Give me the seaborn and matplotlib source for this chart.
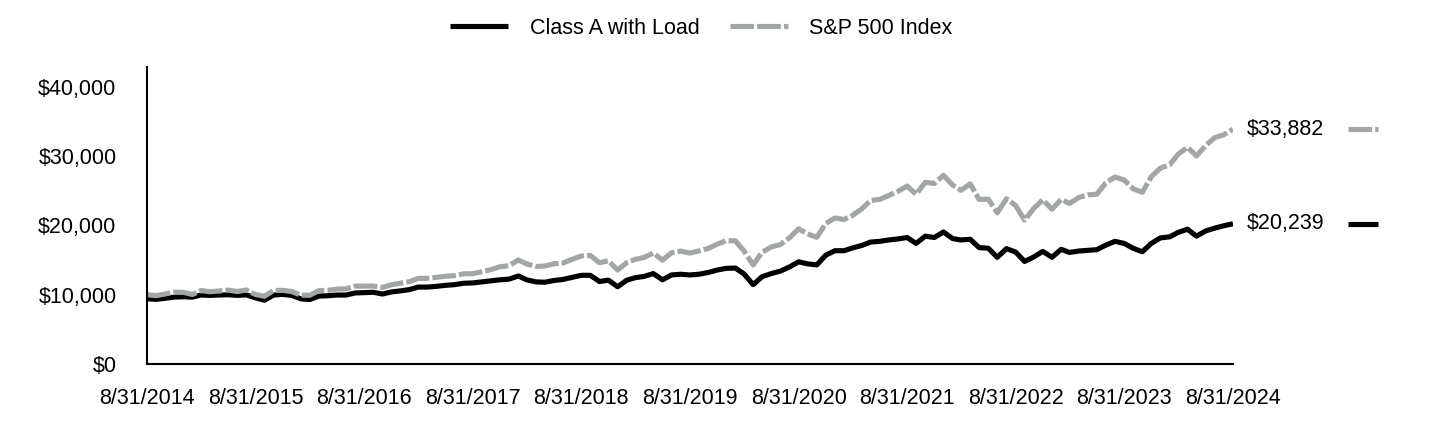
import matplotlib
matplotlib.use("Agg")
import matplotlib.pyplot as plt
import matplotlib.transforms as mtransforms
import seaborn as sns
import pandas as pd

# ---------------- data ----------------
series_names = ["Class A with Load", "S&P 500 Index"]

fund_values = [
    9425, 9330, 9480, 9650, 9700, 9650, 9950, 9900, 9950, 10000, 9900, 9980,
    9550, 9200, 9950, 10050, 9900, 9400, 9300, 9800, 9850, 9950, 9950, 10250,
    10300, 10350, 10100, 10400, 10550, 10750, 11100, 11100, 11200, 11350, 11450, 11650,
    11700, 11850, 12000, 12150, 12250, 12700, 12150, 11850, 11800, 12050, 12200, 12500,
    12800, 12800, 11900, 12100, 11150, 12100, 12450, 12650, 13050, 12150, 12850, 12950,
    12850, 12950, 13200, 13550, 13800, 13850, 13000, 11450, 12600, 13050, 13400, 14000,
    14750, 14450, 14300, 15700, 16350, 16350, 16750, 17100, 17600, 17700, 17900, 18050,
    18250, 17400, 18450, 18250, 19050, 18100, 17900, 18000, 16800, 16700, 15400, 16650,
    16150, 14800, 15450, 16250, 15400, 16550, 16100, 16300, 16400, 16500, 17150, 17700,
    17400, 16700, 16200, 17400, 18200, 18350, 19000, 19450, 18450, 19200, 19600, 19950,
    20239,
]

sp500_values = [
    10000, 9860, 10104, 10368, 10340, 10035, 10602, 10433, 10538, 10665, 10457, 10680,
    10027, 9777, 10604, 10626, 10456, 9940, 9914, 10585, 10630, 10809, 10836, 11239,
    11242, 11246, 11044, 11439, 11665, 11892, 12353, 12367, 12499, 12663, 12743, 13010,
    13037, 13309, 13625, 14029, 14189, 15009, 14446, 14080, 14139, 14467, 14560, 15107,
    15588, 15679, 14613, 14897, 13551, 14639, 15098, 15392, 16021, 14990, 16048, 16284,
    16014, 16314, 16673, 17267, 17788, 17786, 16315, 14295, 16133, 16890, 17227, 18204,
    19509, 18773, 18281, 20278, 21063, 20861, 21438, 22382, 23591, 23757, 24322, 24913,
    25675, 24491, 26225, 26046, 27224, 25832, 25060, 25996, 23746, 23784, 21821, 23846,
    22869, 20765, 22457, 23701, 22337, 23753, 23168, 24017, 24406, 24504, 26130, 26985,
    26548, 25293, 24775, 27026, 28264, 28758, 30291, 31279, 30023, 31513, 32655, 33076,
    33882,
]

dates = pd.date_range("2014-08-31", periods=len(fund_values), freq="ME")

tick_dates = pd.to_datetime([f"{y}-08-31" for y in range(2014, 2025)])
tick_labels = ["8/31/2014", "8/31/2015", "8/31/2016", "8/31/2017", "8/31/2018",
               "8/31/2019", "8/31/2020", "8/31/2021", "8/31/2022", "8/31/2023",
               "8/31/2024"]

y_ticks = [0, 10000, 20000, 30000, 40000]
y_tick_labels = ["$0", "$10,000", "$20,000", "$30,000", "$40,000"]

# ---------------- style ----------------
sns.set_theme(style="white")
plt.rcParams["font.family"] = ["Liberation Sans", "DejaVu Sans"]
plt.rcParams["text.color"] = "black"
plt.rcParams["axes.labelcolor"] = "black"
plt.rcParams["xtick.color"] = "black"
plt.rcParams["ytick.color"] = "black"

FONT = 15.5
BLACK = "#000000"
GRAY = "#A2A6A5"
LW = 3.7
DASH = (0, (4.6, 0.6))

fig = plt.figure(figsize=(14.4, 4.32), dpi=100)
ax = fig.add_axes([147 / 1440, 1 - 364 / 432, (1233 - 147) / 1440, (364 - 67) / 432])

df = pd.DataFrame({"date": dates, "fund": fund_values, "sp": sp500_values})

sns.lineplot(data=df, x="date", y="fund", color=BLACK, lw=LW, ax=ax,
             label=series_names[0], solid_capstyle="butt")
sns.lineplot(data=df, x="date", y="sp", color=GRAY, lw=LW, ax=ax,
             label=series_names[1], linestyle=DASH)

ax.set_xlim(dates[0], dates[-1])
ax.set_ylim(0, 42860)
ax.set_xticks(tick_dates)
ax.set_xticklabels(tick_labels, fontsize=FONT, color="black")
ax.set_yticks(y_ticks)
ax.set_yticklabels(y_tick_labels, fontsize=FONT, color="black")
ax.tick_params(axis="x", length=0, pad=17)
ax.tick_params(axis="y", length=0, pad=22)
ax.set_xlabel("")
ax.set_ylabel("")
ax.grid(False)
for side in ["top", "right"]:
    ax.spines[side].set_visible(False)
for side in ["left", "bottom"]:
    ax.spines[side].set_color("black")
    ax.spines[side].set_linewidth(1.5)

# right-side end labels with line keys
trans = mtransforms.blended_transform_factory(ax.transAxes, ax.transData)
ends = [(fund_values[-1], BLACK, "-"), (sp500_values[-1], GRAY, DASH)]
for val, col, ls in ends:
    ax.text(1.0129, val, f"${val:,.0f}", transform=trans, fontsize=FONT,
            va="center", ha="left", color="black", clip_on=False)
    ax.plot([1.106, 1.1335], [val, val], transform=trans, color=col, lw=LW,
            linestyle=ls, clip_on=False, solid_capstyle="butt")

# legend at top
ax.get_legend().remove()
handles, labels = ax.get_legend_handles_labels()
leg = fig.legend(handles[:2], labels[:2], loc="center", bbox_to_anchor=(0.487, 0.935),
                 ncol=2, frameon=False, fontsize=FONT, handlelength=2.7,
                 handletextpad=1.0, columnspacing=1.4)
for t in leg.get_texts():
    t.set_color("black")

fig.savefig("out.png", dpi=100)
